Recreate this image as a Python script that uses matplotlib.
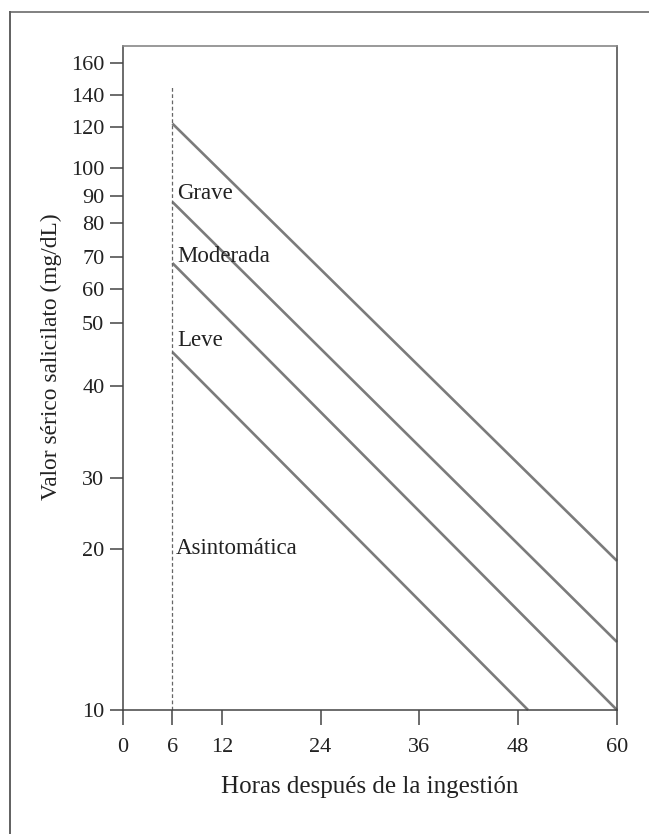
import numpy as np
import matplotlib
matplotlib.use("Agg")
import matplotlib.pyplot as plt
from matplotlib.lines import Line2D

plt.rcParams['font.family'] = ['Liberation Serif', 'DejaVu Serif']

# ---- data ----
hours_ticks = [0, 6, 12, 24, 36, 48, 60]
level_ticks = [10, 20, 30, 40, 50, 60, 70, 80, 90, 100, 120, 140, 160]
# relative placement of the printed (non-uniform) y ticks, as drawn in the nomogram
level_tick_place = [0, 161, 232, 324, 387, 421, 453, 487, 514, 542, 583, 615, 647]

line_start_h = [6, 6, 6, 6]
line_end_h = [60, 60, 60, 49.2]
line_start_v = [122, 87.7, 68, 45.1]
line_end_v = [19.0, 13.4, 10, 10]

zone_labels = ["Grave", "Moderada", "Leve", "Asintomática"]
zone_label_h = [6.6, 6.6, 6.6, 6.4]
zone_label_v = [91, 70, 47, 20]

cutoff_h = 6
cutoff_v = [10, 146]

# ---- custom scale reproducing the printed axis ----
lt = np.log(np.array(level_ticks, float))
lp = np.array(level_tick_place, float)

def fwd(v):
    v = np.asarray(v, float)
    x = np.log(np.clip(v, 1e-6, None))
    out = np.interp(x, lt, lp)
    s0 = (lp[1] - lp[0]) / (lt[1] - lt[0])
    s1 = (lp[-1] - lp[-2]) / (lt[-1] - lt[-2])
    out = np.where(x < lt[0], lp[0] + (x - lt[0]) * s0, out)
    out = np.where(x > lt[-1], lp[-1] + (x - lt[-1]) * s1, out)
    return out

def inv(p):
    p = np.asarray(p, float)
    out = np.interp(p, lp, lt)
    s0 = (lp[1] - lp[0]) / (lt[1] - lt[0])
    s1 = (lp[-1] - lp[-2]) / (lt[-1] - lt[-2])
    out = np.where(p < lp[0], lt[0] + (p - lp[0]) / s0, out)
    out = np.where(p > lp[-1], lt[-1] + (p - lp[-1]) / s1, out)
    return np.exp(out)

W, H = 649, 834
fig = plt.figure(figsize=(W / 100, H / 100), dpi=100)
ax = fig.add_axes([123 / W, (H - 710) / H, 494 / W, 664 / H])
ax.set_yscale('function', functions=(fwd, inv))
ax.set_xlim(0, 60)
ax.set_ylim(10, float(inv(664)))

line_col = '#7b7b7b'
for x0, x1, y0, y1 in zip(line_start_h, line_end_h, line_start_v, line_end_v):
    ax.plot([x0, x1], [y0, y1], color=line_col, lw=1.9, solid_capstyle='butt', clip_on=False)

ax.plot([cutoff_h, cutoff_h], cutoff_v, color='#666666', lw=0.9, ls=(0, (3, 2)))

txt_col = '#222222'
for lab, x, y in zip(zone_labels, zone_label_h, zone_label_v):
    ax.text(x, y, lab, fontsize=16.5, color=txt_col, va='center', ha='left')

ax.set_xticks(hours_ticks)
ax.set_xticklabels([str(h) for h in hours_ticks])
ax.set_yticks(level_ticks)
ax.set_yticklabels([str(v) for v in level_ticks])
ax.yaxis.set_minor_locator(matplotlib.ticker.NullLocator())
ax.tick_params(axis='both', direction='out', width=1.1, color='#444444',
               labelsize=16, labelcolor=txt_col)
ax.tick_params(axis='y', length=9.4, pad=4)
ax.tick_params(axis='x', length=10.8, pad=9)

for s in ['left', 'bottom', 'right']:
    ax.spines[s].set_color('#444444')
    ax.spines[s].set_linewidth(1.1)
ax.spines['top'].set_color('#888888')
ax.spines['top'].set_linewidth(1.2)

ax.set_xlabel('Horas después de la ingestión', fontsize=18, color=txt_col, labelpad=14)
ax.set_ylabel('Valor sérico salicilato (mg/dL)', fontsize=16.8, color=txt_col)
ax.yaxis.set_label_coords(-0.124, 0.532)

# outer page frame
fig.add_artist(Line2D([10 / W, 1.0], [1 - 12 / H, 1 - 12 / H], transform=fig.transFigure,
                      color='#808080', lw=1.4))
fig.add_artist(Line2D([10 / W, 10 / W], [0, 1 - 12 / H], transform=fig.transFigure,
                      color='#606060', lw=1.4))

fig.savefig('out.png', dpi=100)
